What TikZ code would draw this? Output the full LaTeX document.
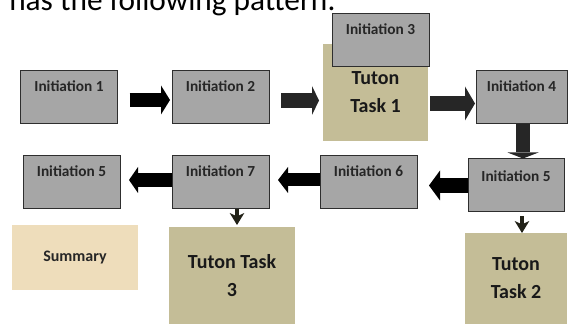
\documentclass[tikz,border=0pt]{standalone}
\usepackage{fontspec}
\setmainfont{Carlito}
\usetikzlibrary{arrows.meta,calc}
\definecolor{boxgray}{HTML}{A6A6A6}
\definecolor{boxline}{HTML}{2E2E2E}
\definecolor{tanfill}{HTML}{C4BD97}
\definecolor{parch}{HTML}{EEDDBB}
\definecolor{darkarrow}{HTML}{262626}
\definecolor{chev}{HTML}{222218}
\tikzset{
  initbox/.style={draw=boxline, line width=0.75pt, fill=boxgray, minimum width=72.75pt,
    minimum height=39.75pt, inner sep=0pt, outer sep=0pt},
  inittext/.style={font=\bfseries\fontsize{11.5}{13}\selectfont, text=black!85, inner sep=0pt},
  tanbox/.style={fill=tanfill, inner sep=0pt, outer sep=0pt, align=center,
    font=\bfseries\fontsize{15}{21}\selectfont, text=black!90},
  barrow/.style n args={3}{line width=#1, -{Triangle[length=#2,width=#3,line width=0pt]}},
  chevron/.style={draw=chev, line width=3.6pt,
    -{Stealth[length=9pt,width=11pt,inset=2.5pt,line width=0pt]}}
}
\begin{document}
\begin{tikzpicture}[x=0.75pt,y=-0.75pt]
\useasboundingbox (0,0) rectangle (568,324);
\clip (0,0) rectangle (568,324);

% title (cut off at top)
\node[anchor=base west, font=\fontsize{23.5}{28}\selectfont, inner sep=0pt] (title) at (9,11) {has the following pattern:};

% top row
\node[initbox, label={[inittext, anchor=base, label distance=-15.75pt]north:Initiation 1}] (i1) at (69,97.5) {};
\node[initbox, label={[inittext, anchor=base, label distance=-15.75pt]north:Initiation 2}] (i2) at (220.5,97.5) {};
\node[tanbox, minimum width=78.75pt, minimum height=72.75pt] (tt1) at (375.5,92.5) {Tuton\\Task 1};
\node[initbox, label={[inittext, anchor=base, label distance=-15.75pt]north:Initiation 3}] (i3) at (380.5,40.5) {};
\node[initbox, minimum width=68.25pt, label={[inittext, anchor=base, label distance=-15.75pt]north:Initiation 4}] (i4) at (521.5,97.5) {};

% middle row
\node[initbox, minimum width=72pt, label={[inittext, anchor=base, label distance=-17.25pt]north:Initiation 5}] (i5r) at (516,185) {};
\node[initbox, label={[inittext, anchor=base, label distance=-15.75pt]north:Initiation 6}] (i6) at (368.5,182.5) {};
\node[initbox, label={[inittext, anchor=base, label distance=-15.75pt]north:Initiation 7}] (i7) at (220.5,182.5) {};
\node[initbox, label={[inittext, anchor=base, label distance=-15.75pt]north:Initiation 5}] (i5l) at (71.5,182.5) {};

% bottom row
\node[fill=parch, minimum width=94.5pt, minimum height=48.75pt, inner sep=0pt,
  font=\bfseries\fontsize{12}{14}\selectfont, text=black!85] (sum) at (75,257.5) {Summary};
\node[tanbox, minimum width=94.5pt, minimum height=72.75pt] (tt3) at (232,275.5) {Tuton Task\\3};
\node[tanbox, minimum width=76.5pt, minimum height=68.25pt] (tt2) at (516,278.5) {Tuton\\Task 2};

% block arrows
\draw[barrow={10.5pt}{6.75pt}{21.75pt}, black] ($(i1.east)+(12,2.5)$) -- ($(i2.west)+(-2,2.5)$);
\draw[barrow={11.25pt}{5.25pt}{21.75pt}, darkarrow] ($(i2.east)+(12,3)$) -- ($(tt1.west)+(-4,8)$);
\draw[barrow={11.25pt}{7.5pt}{25.5pt}, darkarrow] ($(tt1.east)+(2,11)$) -- ($(i4.west)+(-1,6)$);
\draw[barrow={10.5pt}{4.5pt}{23.25pt}, darkarrow] ($(i4.south)+(1.5,0)$) -- ($(i5r.north)+(7,0)$);
\draw[barrow={11.25pt}{8.25pt}{22.5pt}, black] ($(i5r.west)+(0,0.5)$) -- ($(i6.east)+(12,3)$);
\draw[barrow={9.75pt}{7.5pt}{19.5pt}, black] ($(i6.west)+(0,-2.5)$) -- ($(i7.east)+(9,-2.5)$);
\draw[barrow={10.5pt}{6.75pt}{19.5pt}, black] ($(i7.west)+(0,-2.5)$) -- ($(i5l.east)+(9,-2.5)$);

% small arrows to tasks
\draw[chevron] ($(i7.south)+(16.5,0)$) -- ($(tt3.north)+(5,-2)$);
\draw[chevron] ($(i5r.south)+(6,5)$) -- ($(tt2.north)+(6,0)$);
\end{tikzpicture}
\end{document}
